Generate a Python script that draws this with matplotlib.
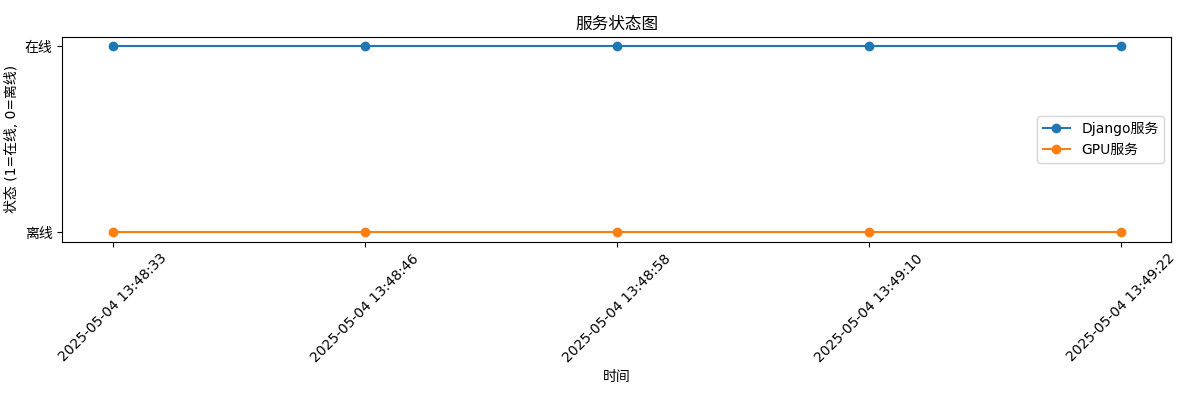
import matplotlib.pyplot as plt

plt.rcParams['font.family'] = ['DejaVu Sans', 'Noto Sans CJK SC']

# 监控时间点
times = ['2025-05-04 13:48:33', '2025-05-04 13:48:46', '2025-05-04 13:48:58',
         '2025-05-04 13:49:10', '2025-05-04 13:49:22']
django_status = [1, 1, 1, 1, 1]
gpu_status = [0, 0, 0, 0, 0]

fig = plt.figure(figsize=(12, 4), dpi=100)
plt.plot(times, django_status, marker='o', label='Django服务')
plt.plot(times, gpu_status, marker='o', label='GPU服务')
plt.title('服务状态图')
plt.xlabel('时间')
plt.ylabel('状态 (1=在线, 0=离线)')
plt.yticks([0, 1], ['离线', '在线'])
plt.xticks(rotation=45)
plt.legend()
# 固定边距, 与原图一致
plt.subplots_adjust(left=0.052, right=0.976, top=0.907, bottom=0.396)
plt.savefig('out.png')
